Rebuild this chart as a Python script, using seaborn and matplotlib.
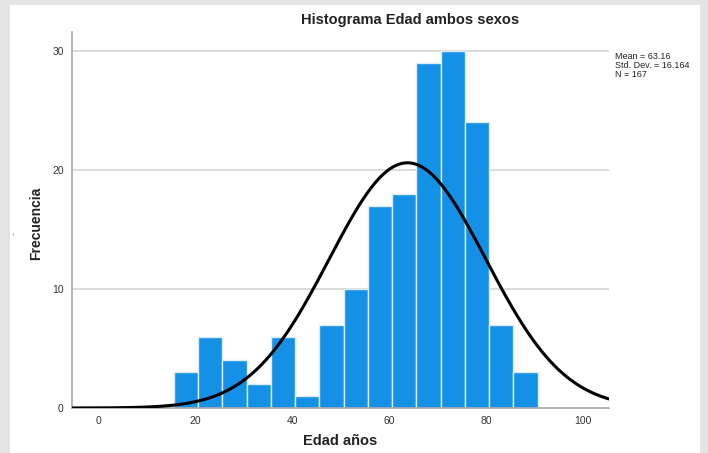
#!/usr/bin/env python3
# -*- coding: utf-8 -*-
'''
Histograma Edad ambos sexos, con curva normal.
'''
import numpy as np
import pandas as pd
import seaborn as sns
import matplotlib.pyplot as plt
from matplotlib.patches import Rectangle
from matplotlib.transforms import ScaledTranslation

# datos
bin_edges = [15, 20, 25, 30, 35, 40, 45, 50, 55, 60, 65, 70, 75, 80, 85, 90]
counts = [3, 6, 4, 2, 6, 1, 7, 10, 17, 18, 29, 30, 24, 7, 3]
mean_age = 63.16
std_age = 16.164
n_total = 167
x_ticks = [0, 20, 40, 60, 80, 100]
y_ticks = [0, 10, 20, 30]

centers = [(a + b) / 2 for a, b in zip(bin_edges[:-1], bin_edges[1:])]
df = pd.DataFrame({"edad": centers, "n": counts})

sns.set_style("white")
plt.rcParams['font.family'] = ['Liberation Sans', 'DejaVu Sans']

fig = plt.figure(figsize=(7.08, 4.53), dpi=100, facecolor="#e4e4e4")
fig.patches.append(Rectangle((10 / 708, 0), 690 / 708, 448 / 453,
                             transform=fig.transFigure, facecolor="white",
                             edgecolor="none", zorder=-10))
ax = fig.add_axes([72 / 708, 45 / 453, 537 / 708, 376 / 453])
ax.set_facecolor("none")

# histograma
sns.histplot(data=df, x="edad", weights="n", bins=bin_edges, ax=ax,
             color="#1490e6", edgecolor="#dcecf8", linewidth=1.0, alpha=1,
             zorder=2)

# curva normal
x_min, x_max = -6.0, 104.7
bw = bin_edges[1] - bin_edges[0]
xs = np.linspace(x_min, x_max, 400)
ys = n_total * bw * np.exp(-0.5 * ((xs - mean_age) / std_age) ** 2) / (std_age * np.sqrt(2 * np.pi))
sns.lineplot(x=xs, y=ys, ax=ax, color="black", linewidth=2.2, zorder=3)

ax.set_xlim(x_min, x_max)
ax.set_ylim(0, 31.6)
ax.set_xticks(x_ticks)
ax.set_yticks(y_ticks)
ax.tick_params(length=0, labelsize=7.5, labelcolor="#333333", pad=6)
shift = ScaledTranslation(-3 / 100, 0, fig.dpi_scale_trans)
for lab in ax.get_xticklabels():
    lab.set_transform(lab.get_transform() + shift)
for y in y_ticks[1:]:
    ax.axhline(y, color="#d4d4d4", linewidth=1.2, zorder=1)
for s in ["top", "right"]:
    ax.spines[s].set_visible(False)
for s in ["left", "bottom"]:
    ax.spines[s].set_color("#a8a8a8")
    ax.spines[s].set_linewidth(1.2)
ax.set_xlabel("")
ax.set_ylabel("")

fig.text(410 / 708, 1 - 20 / 453, "Histograma Edad ambos sexos", ha="center",
         va="center", fontsize=10.5, fontweight="bold", color="#222222")
fig.text(340 / 708, 1 - 441 / 453, "Edad años", ha="center", va="center",
         fontsize=10.5, fontweight="bold", color="#222222")
fig.text(36 / 708, 1 - 223 / 453, "Frecuencia", ha="center", va="center",
         rotation=90, fontsize=10, fontweight="bold", color="#222222")
fig.text(14 / 708, 1 - 233 / 453, "-", ha="center", va="center",
         rotation=90, fontsize=7, color="#999999")
fig.text(615 / 708, 1 - 52 / 453,
         "Mean = %.2f\nStd. Dev. = %.3f\nN = %d" % (mean_age, std_age, n_total),
         ha="left", va="top", fontsize=6.5, color="#222222", linespacing=1.0)

plt.savefig("out.png", dpi=100, facecolor=fig.get_facecolor())
